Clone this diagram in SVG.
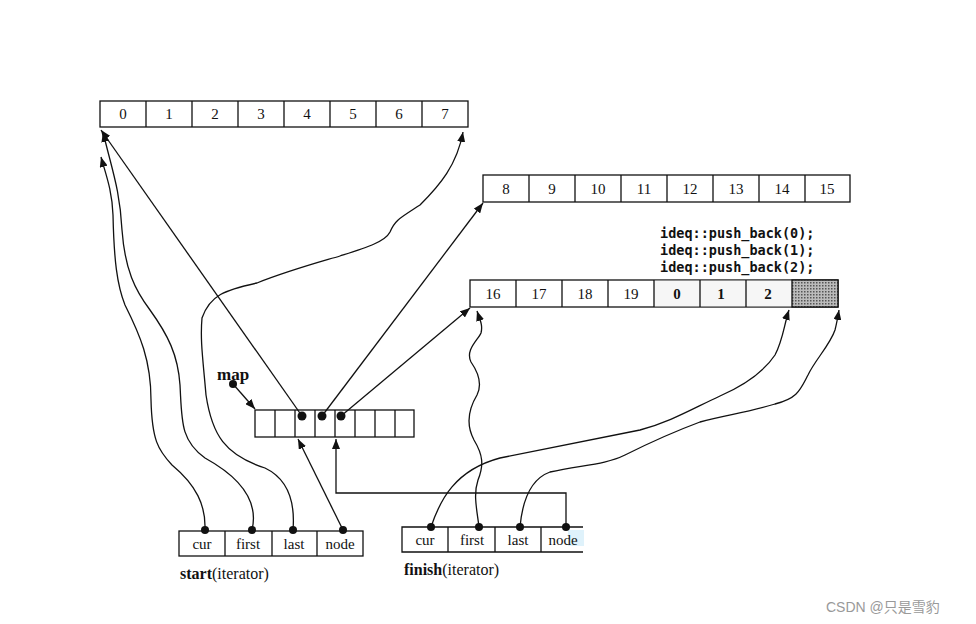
<svg xmlns="http://www.w3.org/2000/svg" width="976" height="624" viewBox="0 0 976 624">
<style>
.cell{fill:#fff;stroke:#111;stroke-width:1.3}
.num{font-family:"Liberation Serif",serif;font-size:15px;text-anchor:middle;fill:#111}
.lbl{font-family:"Liberation Serif",serif;font-size:15px;text-anchor:middle;fill:#111}
.code{font-family:"DejaVu Sans Mono","Liberation Mono",monospace;font-size:13.5px;font-weight:bold;fill:#111}
.ln{fill:none;stroke:#111;stroke-width:1.3}
.dot{fill:#111}
</style>
<defs>
<marker id="ah" viewBox="0 0 10 8" refX="10" refY="4" markerWidth="10" markerHeight="8" markerUnits="userSpaceOnUse" orient="auto">
<path d="M0,0 L10,4 L0,8 Z" fill="#111"/>
</marker>
<pattern id="hatch" width="3" height="3" patternUnits="userSpaceOnUse">
<rect width="3" height="3" fill="#bbb"/>
<rect width="1.5" height="1.5" fill="#555"/>
</pattern>
</defs>
<rect width="976" height="624" fill="#fff"/>

<g id="buffer0">
<rect class="cell" x="100" y="101" width="368" height="26"/>
<path class="ln" d="M146,101V127M192,101V127M238,101V127M284,101V127M330,101V127M376,101V127M422,101V127"/>
<text class="num" x="123" y="119">0</text><text class="num" x="169" y="119">1</text><text class="num" x="215" y="119">2</text><text class="num" x="261" y="119">3</text><text class="num" x="307" y="119">4</text><text class="num" x="353" y="119">5</text><text class="num" x="399" y="119">6</text><text class="num" x="445" y="119">7</text>
</g>

<g id="buffer1">
<rect class="cell" x="483" y="175" width="367" height="27"/>
<path class="ln" d="M529,175V202M575,175V202M621,175V202M667,175V202M713,175V202M759,175V202M805,175V202"/>
<text class="num" x="506" y="194">8</text><text class="num" x="552" y="194">9</text><text class="num" x="598" y="194">10</text><text class="num" x="644" y="194">11</text><text class="num" x="690" y="194">12</text><text class="num" x="736" y="194">13</text><text class="num" x="782" y="194">14</text><text class="num" x="827" y="194">15</text>
</g>

<g id="buffer2">
<rect class="cell" x="470" y="280" width="368" height="27"/>
<rect x="654" y="280.7" width="138" height="25.6" fill="#f6f6f6"/>
<rect x="792" y="280" width="46" height="27" fill="url(#hatch)" stroke="#111" stroke-width="1.3"/>
<path class="ln" d="M516,280V307M562,280V307M608,280V307M654,280V307M700,280V307M746,280V307"/>
<text class="num" x="493" y="299">16</text><text class="num" x="539" y="299">17</text><text class="num" x="585" y="299">18</text><text class="num" x="631" y="299">19</text><text class="num" x="677" y="299" font-weight="bold">0</text><text class="num" x="721" y="299" font-weight="bold">1</text><text class="num" x="768" y="299" font-weight="bold">2</text>
<text class="code" x="660" y="238">ideq::push_back(0);</text>
<text class="code" x="660" y="255">ideq::push_back(1);</text>
<text class="code" x="660" y="272">ideq::push_back(2);</text>
</g>

<g id="map">
<text x="217" y="380" font-family="Liberation Serif,serif" font-size="17" font-weight="bold" fill="#111">map</text>
<circle class="dot" cx="233" cy="384" r="4"/>
<rect class="cell" x="255" y="410" width="159" height="27"/>
<path class="ln" d="M275,410V437M295,410V437M315,410V437M335,410V437M355,410V437M375,410V437M395,410V437"/>
<circle class="dot" cx="302" cy="416" r="4.5"/>
<circle class="dot" cx="322" cy="416" r="4.5"/>
<circle class="dot" cx="341" cy="416" r="4.5"/>
</g>

<g id="start">
<rect class="cell" x="179" y="531" width="184" height="25"/>
<path class="ln" d="M225,531V556M272,531V556M317,531V556"/>
<text class="lbl" x="202" y="549">cur</text><text class="lbl" x="248" y="549">first</text><text class="lbl" x="294" y="549">last</text><text class="lbl" x="340" y="549">node</text>
<text x="180" y="579" font-family="Liberation Serif,serif" font-size="16" fill="#111"><tspan font-weight="bold">start</tspan>(iterator)</text>
<circle class="dot" cx="205" cy="530" r="4"/><circle class="dot" cx="252" cy="530" r="4"/><circle class="dot" cx="293" cy="530" r="4"/><circle class="dot" cx="343" cy="530" r="4"/>
</g>

<g id="finish">
<rect x="568" y="530" width="16" height="16" fill="#dff2fb"/>
<path class="ln" d="M583,527H402V552H583"/>
<path class="ln" d="M448,527V552M495,527V552M541,527V552"/>
<text class="lbl" x="425" y="545">cur</text><text class="lbl" x="472" y="545">first</text><text class="lbl" x="518" y="545">last</text><text class="lbl" x="563" y="545">node</text>
<text x="404" y="575" font-family="Liberation Serif,serif" font-size="16" fill="#111"><tspan font-weight="bold">finish</tspan>(iterator)</text>
<circle class="dot" cx="431" cy="527" r="4"/><circle class="dot" cx="479" cy="527" r="4"/><circle class="dot" cx="520" cy="527" r="4"/><circle class="dot" cx="566" cy="527" r="4"/>
</g>

<g id="connectors">
<path class="ln" d="M233,384L255,409" marker-end="url(#ah)"/>
<path class="ln" d="M302,416L101,130" marker-end="url(#ah)"/>
<path class="ln" d="M322,416L483,203" marker-end="url(#ah)"/>
<path class="ln" d="M341,416L470,308" marker-end="url(#ah)"/>
<path class="ln" d="M343,530L298,439" marker-end="url(#ah)"/>
<path class="ln" d="M566,527V493H336V439" marker-end="url(#ah)"/>
<path class="ln" d="M205,530C206,505 196,485 172,465C158,450 152,440 151,400C151,360 140,335 125,305C117,285 114,260 113,215C112,190 106,175 101,157" marker-end="url(#ah)"/>
<path class="ln" d="M252,530C258,505 245,480 205,458C180,440 182,420 180,385C178,355 168,335 150,310C135,290 125,270 122,230C120,190 112,170 103,132" marker-end="url(#ah)"/>
<path class="ln" d="M293,530C295,505 290,480 265,468C225,455 212,435 206,395C203,360 200,340 202,318C210,295 225,290 257,283C290,270 320,262 340,256C365,248 385,242 390,232C395,220 400,218 420,205C440,185 457,165 463,132" marker-end="url(#ah)"/>
<path class="ln" d="M479,527C477,510 473,495 478,480C484,465 483,455 474,440C466,425 468,410 477,395C482,385 480,375 471,362C465,350 478,340 481,333C483,325 480,320 477,311" marker-end="url(#ah)"/>
<path class="ln" d="M431,527C440,500 455,470 500,458C540,450 590,440 640,430C670,422 690,410 720,396C745,385 765,370 775,355C783,340 784,325 789,310" marker-end="url(#ah)"/>
<path class="ln" d="M520,527C522,505 528,480 550,472C580,465 605,465 625,455C645,445 665,435 700,422C725,415 745,413 775,404C798,398 800,390 808,375C815,360 830,345 835,330C837,322 838,316 839,310" marker-end="url(#ah)"/>
</g>

<text x="826" y="612" font-family="Liberation Sans,Noto Sans CJK SC,sans-serif" font-size="14" fill="#999">CSDN @只是雪豹</text>
</svg>
